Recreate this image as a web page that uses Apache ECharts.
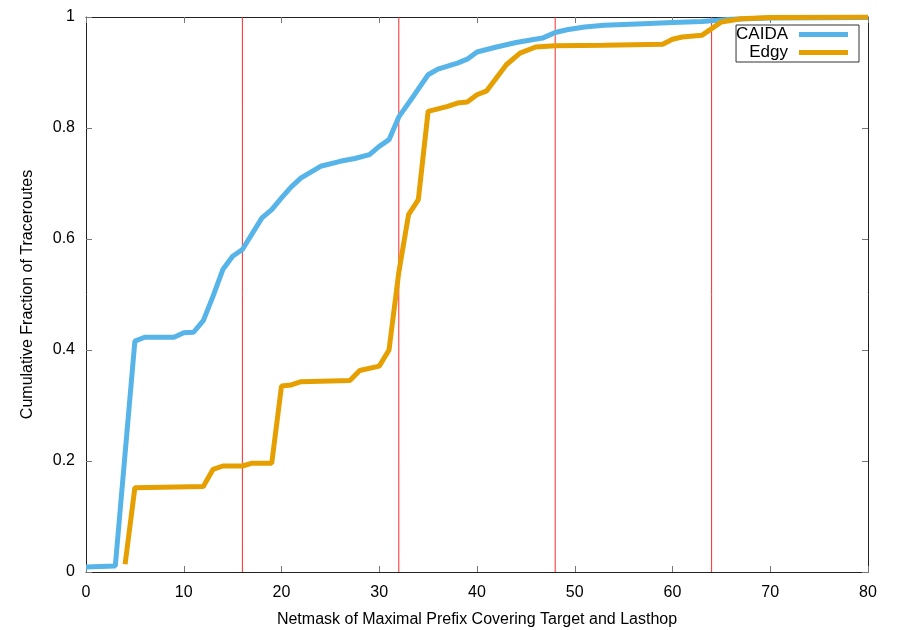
<!DOCTYPE html>
<html>
<head>
<meta charset="utf-8">
<script src="https://cdn.jsdelivr.net/npm/echarts@6/dist/echarts.min.js"></script>
<style>html,body{margin:0;padding:0;background:#fff}#c{width:900px;height:630px}</style>
</head>
<body>
<div id="c"></div>
<script>
const xTicks = [0, 10, 20, 30, 40, 50, 60, 70, 80];
const yTicks = [0, 0.2, 0.4, 0.6, 0.8, 1];
const markers = [16, 32, 48, 64];
const seriesNames = ['CAIDA', 'Edgy'];
const caida = [
  [0, 0.009], [3, 0.011], [5, 0.416], [6, 0.423], [9, 0.423], [10, 0.431], [11, 0.432],
  [12, 0.453], [13, 0.497], [14, 0.545], [15, 0.569], [16, 0.581], [18, 0.638], [19, 0.653],
  [20, 0.674], [21, 0.694], [22, 0.71], [24, 0.731], [26, 0.74], [27.5, 0.745], [29, 0.752],
  [30, 0.767], [31, 0.779], [32, 0.82], [33.6, 0.86], [35, 0.896], [36, 0.906], [38, 0.917],
  [39, 0.924], [40, 0.937], [42, 0.946], [44, 0.954], [46.7, 0.962], [48, 0.972], [49.2, 0.977],
  [51, 0.982], [53, 0.985], [57, 0.988], [60, 0.99], [63, 0.992], [66, 0.996], [70, 0.998], [80, 0.999]
];
const edgy = [
  [4, 0.014], [5, 0.152], [12, 0.154], [13, 0.185], [14, 0.191], [16, 0.191], [17, 0.196],
  [19, 0.196], [20, 0.335], [21, 0.337], [22, 0.343], [27, 0.345], [28, 0.363], [30, 0.371],
  [31, 0.4], [32, 0.54], [33, 0.644], [34, 0.671], [35, 0.83], [37, 0.839], [38, 0.845],
  [39, 0.847], [40, 0.86], [41, 0.867], [43, 0.914], [44.4, 0.935], [46, 0.946], [48, 0.948],
  [53, 0.949], [59, 0.951], [60, 0.96], [61, 0.964], [63, 0.967], [64, 0.979], [65, 0.991],
  [67, 0.997], [70, 0.999], [80, 1.0]
];
const colors = ['#56B4E9', '#E69F00'];
const font = '"Liberation Sans", Arial, sans-serif';

function tick() { return {show: true, inside: true, length: 6, lineStyle: {color: '#777', width: 1}}; }
function axLine() { return {show: true, onZero: false, lineStyle: {color: '#222', width: 1}}; }

const markerSeries = markers.map(m => ({
  name: 'marker' + m, type: 'line', data: [[m, yTicks[0]], [m, yTicks[yTicks.length - 1]]],
  showSymbol: false, symbol: 'none', silent: true, z: 2,
  lineStyle: {width: 1, color: '#ff2a2a'}, emphasis: {disabled: true}
}));

const chart = echarts.init(document.getElementById('c'), null, {renderer: 'canvas'});
chart.setOption({
  animation: false,
  grid: {left: 86, right: 32, top: 17, bottom: 58, containLabel: false, outerBoundsMode: 'none'},
  legend: {
    data: seriesNames,
    orient: 'vertical',
    align: 'right',
    right: 41,
    top: 25,
    icon: 'rect',
    itemWidth: 49,
    itemHeight: 5,
    itemGap: 1,
    padding: [1, 11, 1, 0],
    borderColor: '#333',
    borderWidth: 1,
    backgroundColor: '#fff',
    textStyle: {fontFamily: font, fontSize: 17, color: '#000', lineHeight: 16, padding: [0, 6, 0, 0]}
  },
  xAxis: [{
    type: 'value', min: xTicks[0], max: xTicks[xTicks.length - 1], interval: 10,
    name: 'Netmask of Maximal Prefix Covering Target and Lasthop',
    nameLocation: 'middle', nameGap: 40,
    nameTextStyle: {fontFamily: font, fontSize: 16, color: '#000'},
    axisLine: axLine(), axisTick: tick(), splitLine: {show: false},
    axisLabel: {fontFamily: font, fontSize: 16, color: '#000', margin: 13}
  }, {
    type: 'value', position: 'top', min: xTicks[0], max: xTicks[xTicks.length - 1], interval: 10,
    axisLine: axLine(), axisTick: tick(), splitLine: {show: false}, axisLabel: {show: false}
  }],
  yAxis: [{
    type: 'value', min: yTicks[0], max: yTicks[yTicks.length - 1], interval: 0.2,
    name: 'Cumulative Fraction of Traceroutes',
    nameLocation: 'middle', nameGap: 50,
    nameTextStyle: {fontFamily: font, fontSize: 16, color: '#000'},
    axisLine: axLine(), axisTick: tick(), splitLine: {show: false},
    axisLabel: {fontFamily: font, fontSize: 16, color: '#000', margin: 11,
      formatter: v => String(Math.round(v * 10) / 10)}
  }, {
    type: 'value', position: 'right', min: yTicks[0], max: yTicks[yTicks.length - 1], interval: 0.2,
    axisLine: axLine(), axisTick: tick(), splitLine: {show: false}, axisLabel: {show: false}
  }],
  series: markerSeries.concat([{
    name: seriesNames[0], type: 'line', data: caida, showSymbol: false, symbol: 'none',
    lineStyle: {width: 5, color: colors[0]}, itemStyle: {color: colors[0]}, z: 3
  }, {
    name: seriesNames[1], type: 'line', data: edgy, showSymbol: false, symbol: 'none',
    lineStyle: {width: 5, color: colors[1]}, itemStyle: {color: colors[1]}, z: 4
  }])
});
</script>
</body>
</html>
